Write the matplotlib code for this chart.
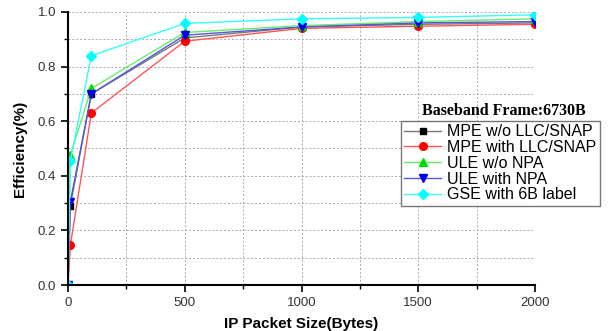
import matplotlib
matplotlib.use('Agg')
import matplotlib.pyplot as plt
from matplotlib.ticker import MultipleLocator

# packet sizes in bytes
sizes = [0, 10, 100, 500, 1000, 1500, 2000]

mpe_no_llc = [0.0, 0.29, 0.70, 0.905, 0.945, 0.955, 0.960]
mpe_llc = [0.0, 0.145, 0.63, 0.893, 0.940, 0.948, 0.955]
ule_no_npa = [0.0, 0.475, 0.72, 0.925, 0.950, 0.965, 0.975]
ule_npa = [0.0, 0.305, 0.70, 0.915, 0.945, 0.960, 0.965]
gse_6b = [0.0, 0.455, 0.84, 0.958, 0.975, 0.980, 0.990]

labels = ['MPE w/o LLC/SNAP', 'MPE with LLC/SNAP', 'ULE w/o NPA',
          'ULE with NPA', 'GSE with 6B label']

plt.rcParams['font.family'] = ['Liberation Sans', 'DejaVu Sans']

fig = plt.figure(figsize=(6.12, 3.31), dpi=100)
ax = fig.add_axes([68 / 612, 1 - 285 / 331, 467 / 612, 273 / 331])

series = [mpe_no_llc, mpe_llc, ule_no_npa, ule_npa, gse_6b]
markers = ['s', 'o', '^', 'v', 'D']
mcolors = ['black', 'red', '#00dd00', '#0000ee', 'cyan']
lcolors = ['#777777', '#ff5555', '#66ee66', '#5555dd', '#33ffff']
msizes = [5, 5.5, 6, 6, 5]

for ys, lab, m, mc, lc, ms in zip(series, labels, markers, mcolors, lcolors, msizes):
    ax.plot(sizes, ys, color=lc, lw=1.0, marker=m, markersize=ms,
            markerfacecolor=mc, markeredgecolor=mc, label=lab)

ax.set_xlim(0, 2000)
ax.set_ylim(0, 1.0)
ax.xaxis.set_major_locator(MultipleLocator(500))
ax.xaxis.set_minor_locator(MultipleLocator(250))
ax.yaxis.set_major_locator(MultipleLocator(0.2))
ax.yaxis.set_minor_locator(MultipleLocator(0.1))
ax.yaxis.set_major_formatter(plt.FormatStrFormatter('%.1f'))

ax.grid(True, which='both', color='#aaaaaa', ls=(0, (2, 2)), lw=0.7)
ax.spines['top'].set_visible(False)
ax.spines['right'].set_visible(False)
ax.spines['left'].set_linewidth(1.5)
ax.spines['bottom'].set_linewidth(1.5)
ax.tick_params(which='major', length=5, width=1.2, labelsize=9.5, colors='black',
               labelcolor='#333333')
ax.tick_params(which='minor', length=3, width=1.0)

ax.set_xlabel('IP Packet Size(Bytes)', fontsize=11, fontweight='bold', labelpad=6)
ax.set_ylabel('Efficiency(%)', fontsize=11, fontweight='bold', labelpad=8)

fig.text(422 / 612, 1 - 111 / 331, 'Baseband Frame:6730B', family=['Liberation Serif'],
         fontsize=11.5, fontweight='bold', va='center')

leg = ax.legend(loc='upper left', bbox_to_anchor=(401 / 612, 1 - 121 / 331),
                bbox_transform=fig.transFigure, fontsize=11.5, frameon=True,
                fancybox=False, edgecolor='#555555', handlelength=2.3,
                borderpad=0.2, labelspacing=0.05, handletextpad=0.4,
                borderaxespad=0)
leg.get_frame().set_linewidth(1.0)

fig.savefig('out.png', dpi=100)
